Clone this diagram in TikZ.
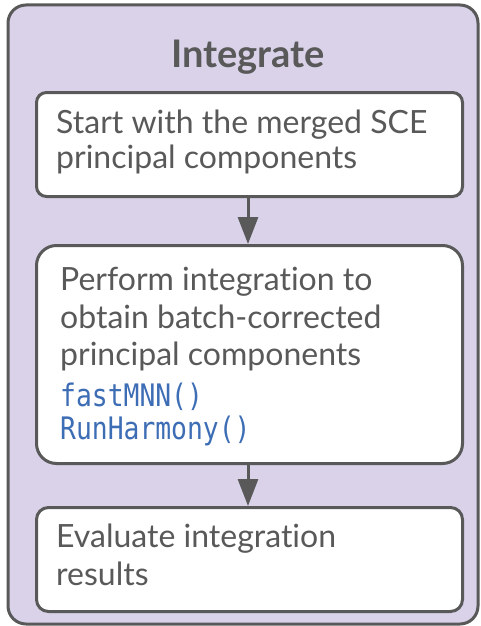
\documentclass[tikz,border=0pt]{standalone}
\usepackage{fontspec}
\setmainfont{Lato}[Ligatures={NoCommon}]
\newfontfamily\codefont[FakeStretch=0.85]{DejaVu Sans Mono}
\usetikzlibrary{arrows.meta}
\definecolor{linegray}{HTML}{595959}
\definecolor{lav}{HTML}{D9D2E9}
\definecolor{codeblue}{HTML}{3D6DB5}
\tikzset{
  stepbox/.style={draw=linegray, line width=3pt, fill=white, inner sep=0pt, minimum width=426pt, anchor=north west},
  steptext/.style={anchor=base west, align=left, inner sep=0pt, text=linegray},
  flow/.style={draw=linegray, line width=3pt, -{Triangle[width=20pt,length=27pt]}},
}
\newcommand{\codetext}[1]{{\codefont\fontsize{31}{33}\selectfont\color{codeblue}#1}}
\begin{document}
\begin{tikzpicture}[x=1pt,y=-1pt]
\useasboundingbox (0,0) rectangle (481,626);
\draw[draw=linegray, fill=lav, line width=3pt, rounded corners=18pt] (8,5) rectangle (478,624);
\node[text=linegray, font=\bfseries\fontsize{38}{44}\selectfont, anchor=base] (title) at (248,67) {Integrate};
\node[stepbox, rounded corners=10pt, minimum height=104pt] (b1) at (35,91) {};
\node[steptext, font=\fontsize{32}{35}\selectfont] (t1) at (56,168) {Start with the merged SCE\\principal components};
\node[stepbox, rounded corners=20pt, minimum height=218pt] (b2) at (35,244) {};
\node[steptext, font=\fontsize{32}{37.5}\selectfont] (t2) at (60,439) {Perform integration to\\obtain batch-corrected\\principal components\\[3pt]\codetext{fastMNN()}\\[-4.5pt]\codetext{RunHarmony()}};
\node[stepbox, rounded corners=12pt, minimum height=104pt] (b3) at (35,506) {};
\node[steptext, font=\fontsize{32}{38}\selectfont] (t3) at (56,585) {Evaluate integration\\results};
\draw[flow] (b1.south -| 248,0) -- (b2.north -| 248,0);
\draw[flow] (b2.south -| 248,0) -- (b3.north -| 248,0);
\end{tikzpicture}
\end{document}
